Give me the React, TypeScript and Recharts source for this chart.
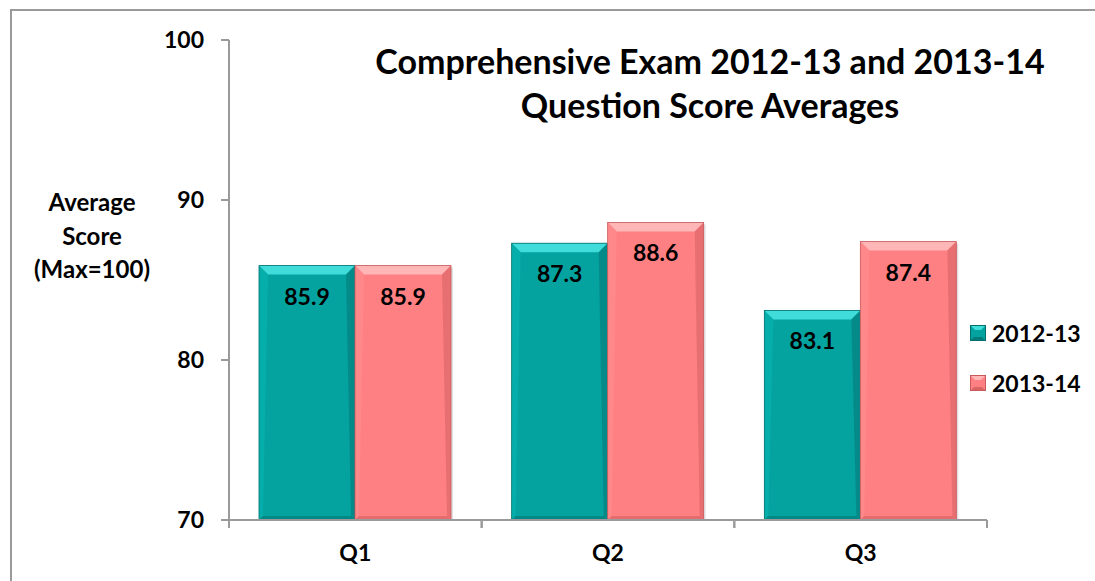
import React from 'react';
import { BarChart, Bar, XAxis, YAxis, LabelList } from 'recharts';

const categories = ['Q1', 'Q2', 'Q3'];
const series2012 = [85.9, 87.3, 83.1];
const series2013 = [85.9, 88.6, 87.4];
const yTicks = [70, 80, 90, 100];
const seriesNames = ['2012-13', '2013-14'];

const data = categories.map((q, i) => ({ q, s1: series2012[i], s2: series2013[i] }));

const FONT = 'Lato, "Open Sans", sans-serif';
const W = 1095;
const H = 581;
const M = { top: 40, right: 108, left: 169, bottom: 31 };
const Y_AXIS_W = 60;
const X_AXIS_H = 30;
const BAND = (W - M.left - M.right - Y_AXIS_W) / categories.length;

const COLORS = {
  s1: { main: '#05A3A0', light: '#3FDCD9', side: '#07B2AF', dark: '#037C7A', edge: '#02706E' },
  s2: { main: '#FF8082', light: '#FFB6B7', side: '#FF8C8E', dark: '#D96466', edge: '#C85A5C' },
};

function makeBevel(c: typeof COLORS.s1) {
  return (props: any) => {
    const { x, y, width: w, height: h } = props;
    if (!w || !h) return null;
    const b = 9;
    const s = 4;
    return (
      <g>
        <rect x={x + 2} y={y + 2} width={w} height={h - 2} fill="rgba(0,0,0,0.12)" />
        <rect x={x} y={y} width={w} height={h} fill={c.main} />
        <polygon points={`${x},${y} ${x + w},${y} ${x + w - b},${y + b} ${x + b},${y + b}`} fill={c.light} />
        <polygon points={`${x},${y} ${x + b},${y + b} ${x + s},${y + h - s} ${x},${y + h}`} fill={c.side} opacity={0.7} />
        <polygon points={`${x + w},${y} ${x + w - b},${y + b} ${x + w - s},${y + h - s} ${x + w},${y + h}`} fill={c.dark} opacity={0.6} />
        <polygon points={`${x},${y + h} ${x + s},${y + h - s} ${x + w - s},${y + h - s} ${x + w},${y + h}`} fill={c.dark} opacity={0.7} />
        <rect x={x} y={y} width={w} height={h} fill="none" stroke={c.edge} strokeWidth={0.8} />
      </g>
    );
  };
}

const renderValue = (props: any) => {
  const { x, y, width, value } = props;
  return (
    <text
      x={x + width / 2}
      y={y + 30}
      textAnchor="middle"
      dominantBaseline="central"
      fontFamily={FONT}
      fontWeight={700}
      fontSize={23}
      fill="#000"
    >
      {Number(value).toFixed(1)}
    </text>
  );
};

const XTick = (props: any) => {
  const { x, y, payload } = props;
  const axisY = y - 8;
  return (
    <g>
      <line x1={x - BAND / 2} y1={axisY} x2={x - BAND / 2} y2={axisY + 8} stroke="#9a9a9a" strokeWidth={2} />
      <line x1={x + BAND / 2} y1={axisY} x2={x + BAND / 2} y2={axisY + 8} stroke="#9a9a9a" strokeWidth={2} />
      <text x={x} y={axisY + 41} textAnchor="middle" fontFamily={FONT} fontWeight={700} fontSize={23} fill="#000">
        {payload.value}
      </text>
    </g>
  );
};

const YLabel = () => (
  <text textAnchor="middle" fontFamily={FONT} fontWeight={700} fontSize={24} fill="#000">
    <tspan x={92} y={211}>Average</tspan>
    <tspan x={92} y={245}>Score</tspan>
    <tspan x={92} y={278}>(Max=100)</tspan>
  </text>
);

const LegendBox = () => (
  <div style={{ position: 'absolute', left: 970, top: 308, fontFamily: FONT, fontWeight: 700, fontSize: 23, color: '#000' }}>
    {(['s1', 's2'] as const).map((k, i) => (
      <div key={k} style={{ display: 'flex', alignItems: 'center', height: 50 }}>
        <svg width={16} height={16} style={{ marginRight: 6 }}>
          <rect x={0} y={0} width={16} height={16} fill={COLORS[k].main} />
          <polygon points="0,0 16,0 11,5 5,5" fill={COLORS[k].light} />
          <polygon points="0,16 4,12 12,12 16,16" fill={COLORS[k].dark} />
          <rect x={0.5} y={0.5} width={15} height={15} fill="none" stroke={COLORS[k].edge} />
        </svg>
        <span>{seriesNames[i]}</span>
      </div>
    ))}
  </div>
);

export default function App() {
  return (
    <div style={{ position: 'absolute', left: 0, top: 0, width: W, height: H, background: '#fff', overflow: 'hidden' }}>
      <div style={{ position: 'absolute', left: 10, top: 9, width: W + 20, height: H + 20, border: '2px solid #9a9a9a' }} />
      <div style={{ position: 'absolute', left: 0, top: 0 }}>
        <BarChart width={W} height={H} data={data} margin={M} barGap={0} barCategoryGap={30}>
          <YAxis
            width={Y_AXIS_W}
            domain={[70, 100]}
            ticks={yTicks}
            interval={0}
            allowDataOverflow
            tickSize={8}
            tickMargin={17}
            axisLine={{ stroke: '#9a9a9a', strokeWidth: 2 }}
            tickLine={{ stroke: '#9a9a9a', strokeWidth: 2 }}
            tick={{ fontFamily: FONT, fontWeight: 700, fontSize: 23, fill: '#000' }}
            label={<YLabel />}
          />
          <XAxis
            dataKey="q"
            height={X_AXIS_H}
            tickLine={false}
            tickSize={8}
            tickMargin={0}
            axisLine={{ stroke: '#9a9a9a', strokeWidth: 2 }}
            tick={<XTick />}
            interval={0}
          />
          <Bar dataKey="s1" name={seriesNames[0]} fill={COLORS.s1.main} shape={makeBevel(COLORS.s1)} isAnimationActive={false}>
            <LabelList dataKey="s1" content={renderValue} />
          </Bar>
          <Bar dataKey="s2" name={seriesNames[1]} fill={COLORS.s2.main} shape={makeBevel(COLORS.s2)} isAnimationActive={false}>
            <LabelList dataKey="s2" content={renderValue} />
          </Bar>
        </BarChart>
      </div>
      <div
        style={{
          position: 'absolute',
          left: 360,
          top: 39,
          width: 700,
          textAlign: 'center',
          fontFamily: FONT,
          fontWeight: 700,
          fontSize: 34,
          lineHeight: '44px',
          color: '#000',
        }}
      >
        Comprehensive Exam 2012-13 and 2013-14
        <br />
        Question Score Averages
      </div>
      <LegendBox />
    </div>
  );
}
